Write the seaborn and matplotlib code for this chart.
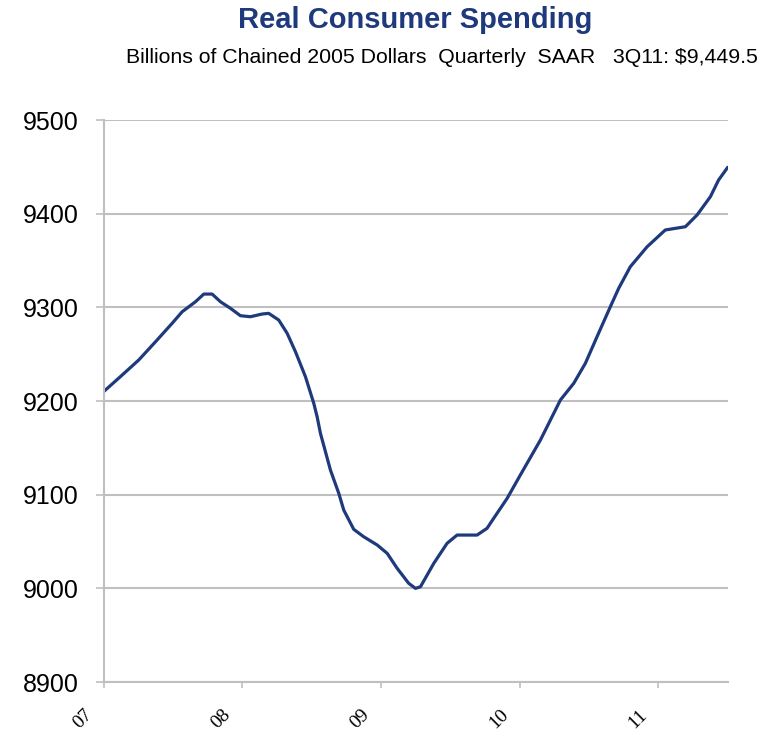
import matplotlib
matplotlib.use("Agg")
import matplotlib.pyplot as plt
import matplotlib.transforms as mtransforms
import seaborn as sns
import pandas as pd

# Time (decimal years) and real consumer spending (billions of chained 2005 $)
years = [2007.00, 2007.135, 2007.254, 2007.375, 2007.495, 2007.567, 2007.663, 2007.723,
         2007.783, 2007.843, 2007.915, 2007.987, 2008.059, 2008.144, 2008.191, 2008.263,
         2008.324, 2008.384, 2008.456, 2008.516, 2008.540, 2008.564, 2008.636, 2008.696,
         2008.732, 2008.804, 2008.876, 2008.973, 2009.045, 2009.117, 2009.200, 2009.249,
         2009.285, 2009.381, 2009.477, 2009.549, 2009.693, 2009.765, 2009.813, 2009.910,
         2010.005, 2010.150, 2010.294, 2010.390, 2010.474, 2010.558, 2010.654, 2010.714,
         2010.798, 2010.919, 2011.050, 2011.195, 2011.279, 2011.375, 2011.434, 2011.500]
spending = [9209.9, 9227.8, 9243.8, 9263.3, 9283.0, 9295.3, 9306.0, 9314.2,
            9314.2, 9306.0, 9299.0, 9291.1, 9290.0, 9292.9, 9293.6, 9286.5,
            9272.3, 9252.6, 9225.9, 9197.5, 9183.2, 9165.5, 9126.3, 9101.5,
            9083.6, 9063.0, 9055.1, 9046.3, 9037.4, 9021.4, 9005.4, 9000.0,
            9001.7, 9026.7, 9048.1, 9056.9, 9056.9, 9064.1, 9074.8, 9096.1,
            9121.0, 9158.4, 9201.1, 9218.9, 9240.3, 9268.7, 9300.7, 9320.3,
            9343.4, 9364.7, 9382.6, 9386.1, 9398.6, 9418.1, 9435.9, 9449.5]

x_ticks = [2007, 2008, 2009, 2010, 2011]
x_labels = ["07", "08", "09", "10", "11"]
y_ticks = [8900, 9000, 9100, 9200, 9300, 9400, 9500]

title = "Real Consumer Spending"
subtitle = "Billions of Chained 2005 Dollars  Quarterly  SAAR   3Q11: $9,449.5"

df = pd.DataFrame({"year": years, "spending": spending})

sns.set_style("white")
plt.rcParams["font.family"] = ["Liberation Sans", "DejaVu Sans"]

fig = plt.figure(figsize=(7.73, 7.31), dpi=100)
ax = fig.add_axes([0.1339, 0.067, 0.9414 - 0.1339, 0.8358 - 0.067])

navy = "#1F3A7C"
grid_c = "#BFBFBF"

sns.lineplot(data=df, x="year", y="spending", ax=ax, color=navy, linewidth=2.3,
             sort=False, estimator=None)

ax.set_xlim(2007, 2011.5)
ax.set_ylim(8900, 9500)
ax.set_yticks(y_ticks)
ax.set_yticklabels([str(v) for v in y_ticks], fontsize=18, color="black")
ax.set_xticks(x_ticks)
ax.set_xticklabels([])
ax.set_xlabel("")
ax.set_ylabel("")

# rotated serif year labels, offset down-left of each tick
lab_tr = ax.get_xaxis_transform() + mtransforms.ScaledTranslation(-0.21, -0.37, fig.dpi_scale_trans)
for xt, lab in zip(x_ticks, x_labels):
    ax.text(xt, 0, lab, transform=lab_tr, rotation=45, rotation_mode="anchor",
            ha="center", va="center", fontsize=14, family=["Liberation Serif"],
            color="black", clip_on=False)

ax.yaxis.grid(True, color=grid_c, linewidth=1.5)
ax.xaxis.grid(False)
ax.set_axisbelow(True)
for s in ["top", "right"]:
    ax.spines[s].set_visible(False)
for s in ["left", "bottom"]:
    ax.spines[s].set_color(grid_c)
    ax.spines[s].set_linewidth(1.5)

ax.tick_params(axis="y", which="both", left=True, length=6, width=1.2, color=grid_c, pad=12)
ax.tick_params(axis="x", which="both", bottom=True, length=4, width=1.2, color=grid_c)

fig.text(0.537, 0.9726, title, ha="center", va="center", fontsize=21,
         fontweight="bold", color=navy)
fig.text(0.572, 0.922, subtitle, ha="center", va="center", fontsize=15.3, color="black")

fig.savefig("out.png", dpi=100)
